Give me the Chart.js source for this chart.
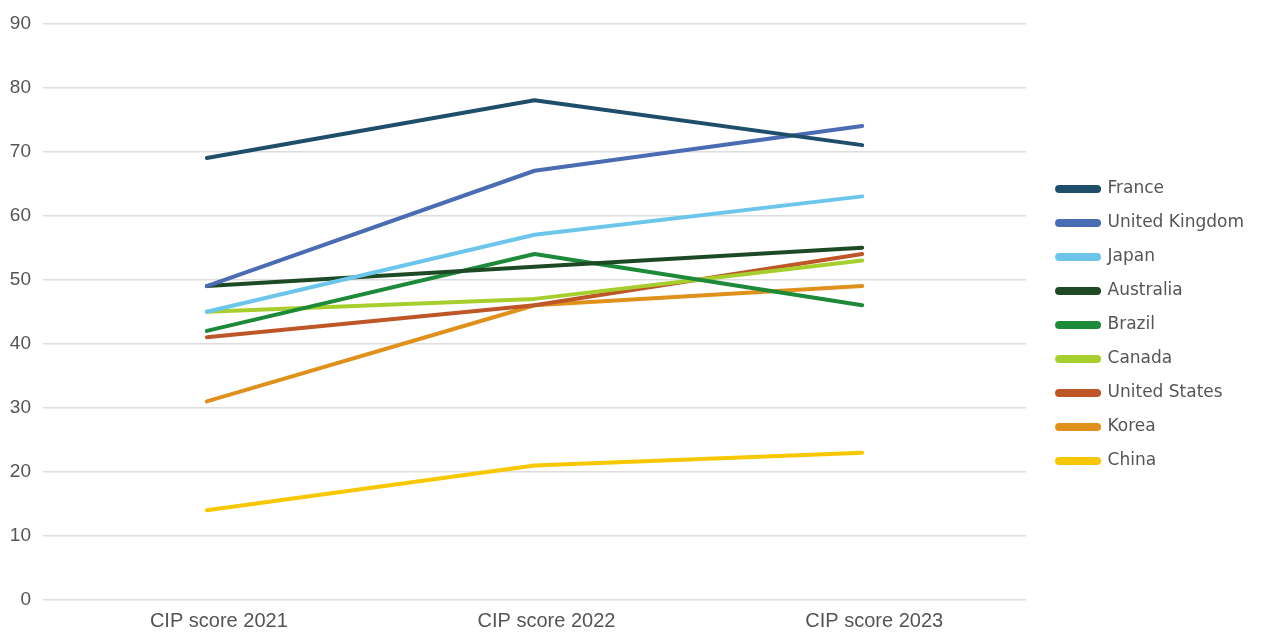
<!DOCTYPE html>
<html>
<head>
<meta charset="utf-8">
<script src="https://cdn.jsdelivr.net/npm/chart.js@4.4.0/dist/chart.umd.min.js"></script>
<style>
    html, body { margin: 0; padding: 0; background: #ffffff; }
    #wrap { width: 1267px; height: 633px; }
</style>
</head>
<body>
<div id="wrap"><canvas id="chart"></canvas></div>
<script>
const categories = ['CIP score 2021', 'CIP score 2022', 'CIP score 2023'];
const countries = ['France', 'United Kingdom', 'Japan', 'Australia', 'Brazil', 'Canada', 'United States', 'Korea', 'China'];
const france = [69, 78, 71];
const unitedKingdom = [49, 67, 74];
const japan = [45, 57, 63];
const australia = [49, 52, 55];
const brazil = [42, 54, 46];
const canada = [45, 47, 53];
const unitedStates = [41, 46, 54];
const korea = [31, 46, 49];
const china = [14, 21, 23];
const colors = ['#1f4e6b', '#4a6cb3', '#6cc6ec', '#1d4a25', '#1d8a3a', '#a6cf2e', '#bf5628', '#e0911c', '#f7c800'];
const yTicks = [0, 10, 20, 30, 40, 50, 60, 70, 80, 90];

Chart.defaults.font.family = "'Liberation Sans', Arial, sans-serif";
Chart.defaults.color = '#555555';

// push the legend away from the plot
const legendGap = {
    id: 'legendGap',
    beforeInit(chart) {
        const legend = chart.legend;
        const fit = legend.fit;
        legend.fit = function () {
            fit.call(this);
            this.width += 19;
        };
    },
    afterLayout(chart) {
        chart.legend.left += 14;
        chart.legend.top -= 3;
    }
};

document.addEventListener("DOMContentLoaded", () => {
    const values = [france, unitedKingdom, japan, australia, brazil, canada, unitedStates, korea, china];

    new Chart(document.getElementById('chart'), {
        type: 'line',
        data: {
            labels: categories,
            datasets: countries.map((name, i) => ({
                label: name,
                data: values[i],
                borderColor: colors[i],
                backgroundColor: colors[i],
                borderWidth: 4,
                borderCapStyle: 'round',
                borderJoinStyle: 'round',
                pointRadius: 0,
                tension: 0
            }))
        },
        plugins: [legendGap],
        options: {
            responsive: true,
            maintainAspectRatio: false,
            animation: false,
            layout: { padding: { top: 20, right: 8, left: 0, bottom: 0 } },
            plugins: {
                tooltip: { enabled: false },
                legend: {
                    position: 'right',
                    labels: {
                        boxWidth: 42,
                        boxHeight: 4,
                        padding: 17,
                        useBorderRadius: true,
                        borderRadius: 2,
                        font: { size: 17, family: "'DejaVu Sans', sans-serif" },
                        color: '#555555'
                    }
                }
            },
            scales: {
                x: {
                    offset: true,
                    grid: { display: false },
                    border: { display: false },
                    ticks: { font: { size: 20 }, color: '#555555', padding: 1, labelOffset: 12 },
                    afterFit: axis => { axis.height = 33; }
                },
                y: {
                    min: 0,
                    max: 90,
                    afterBuildTicks: axis => { axis.ticks = yTicks.map(v => ({ value: v })); },
                    grid: { color: '#dddddd', lineWidth: 1.5, drawTicks: false },
                    border: { display: false },
                    ticks: { font: { size: 19 }, color: '#555555', padding: 12 },
                    afterFit: axis => { axis.width = 43; }
                }
            }
        }
    });
});
</script>
</body>
</html>
